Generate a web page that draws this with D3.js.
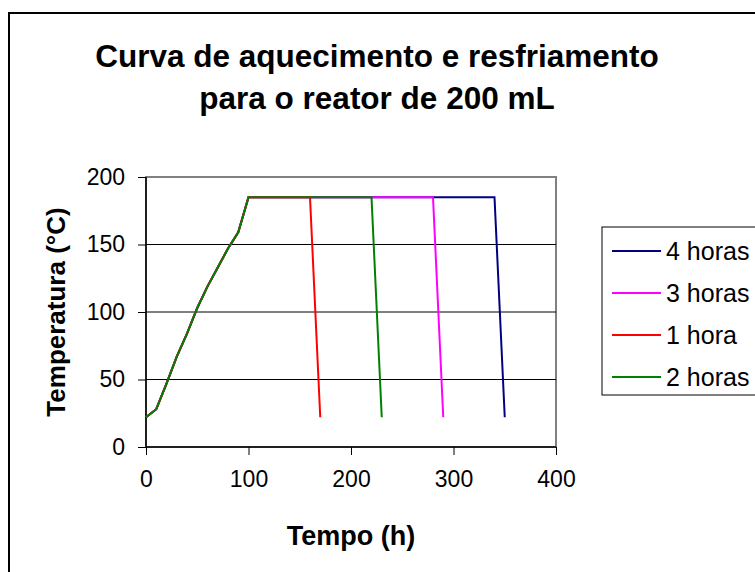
<!DOCTYPE html>
<html lang="pt">
<head>
<meta charset="UTF-8">
<title>Curva de aquecimento e resfriamento</title>
<script src="https://d3js.org/d3.v7.min.js"></script>
<style>
  body { margin: 0; background: #fff; }
  svg text { font-family: Arial, "Liberation Sans", sans-serif; }
</style>
</head>
<body>
<div id="chart"></div>
<script>
// heating part (shared by all series)
var heatTime = [0, 10, 20, 30, 40, 50, 60, 70, 80, 90, 100];
var heatTemp = [22, 28, 47, 67, 84, 103, 119, 133, 147, 159, 185];

// series in legend order (drawn in this order, last on top)
var seriesNames = ["4 horas", "3 horas", "1 hora", "2 horas"];
var seriesColors = ["#000080", "#ff00ff", "#ff0000", "#008000"];
var plateauEnd = [340, 280, 160, 220];
var coolEnd = [350, 290, 170, 230];
var plateauTemp = 185;
var finalTemp = 22;

var xTicks = [0, 100, 200, 300, 400];
var yTicks = [0, 50, 100, 150, 200];

var width = 755, height = 572;
var plot = {left: 146, right: 556, top: 177, bottom: 447};

var svg = d3.select("#chart").append("svg")
    .attr("width", width)
    .attr("height", height);

// outer chart frame
svg.append("rect")
    .attr("x", 9).attr("y", 13)
    .attr("width", 800).attr("height", 600)
    .attr("fill", "white")
    .attr("stroke", "black")
    .attr("stroke-width", 2);

var x = d3.scaleLinear().domain([0, 400]).range([plot.left, plot.right]);
var y = d3.scaleLinear().domain([0, 200]).range([plot.bottom, plot.top]);

// title
var title = svg.append("text")
    .attr("text-anchor", "middle")
    .attr("font-size", "31.5px")
    .attr("font-weight", "bold");
title.append("tspan").attr("x", 377).attr("y", 67).text("Curva de aquecimento e resfriamento");
title.append("tspan").attr("x", 377).attr("y", 109).text("para o reator de 200 mL");

// plot area border (gray)
svg.append("rect")
    .attr("x", plot.left).attr("y", plot.top)
    .attr("width", plot.right - plot.left)
    .attr("height", plot.bottom - plot.top)
    .attr("fill", "none")
    .attr("stroke", "#808080")
    .attr("stroke-width", 2);

// gridlines
svg.append("g")
    .selectAll("line")
    .data(yTicks.filter(function(d){ return d > 0 && d < 200; }))
    .enter().append("line")
    .attr("x1", plot.left).attr("x2", plot.right)
    .attr("y1", function(d){ return y(d); })
    .attr("y2", function(d){ return y(d); })
    .attr("stroke", "black")
    .attr("stroke-width", 1);

// axes
var xAxis = svg.append("g")
    .attr("transform", "translate(0," + plot.bottom + ")")
    .call(d3.axisBottom(x).tickValues(xTicks).tickSize(8).tickPadding(16));
var yAxis = svg.append("g")
    .attr("transform", "translate(" + plot.left + ",0)")
    .call(d3.axisLeft(y).tickValues(yTicks).tickSize(8).tickPadding(13));

[xAxis, yAxis].forEach(function(ax){
    ax.select(".domain").attr("stroke", "black").attr("stroke-width", 1.5);
    ax.selectAll(".tick line").attr("stroke", "black");
    ax.selectAll(".tick text")
        .attr("font-size", "23px")
        .attr("fill", "black")
        .attr("font-family", "Arial, 'Liberation Sans', sans-serif");
});
xAxis.select(".domain").attr("d", "M" + plot.left + ",0H" + plot.right);
yAxis.select(".domain").attr("d", "M0," + plot.top + "V" + plot.bottom);

// axis titles
svg.append("text")
    .attr("x", (plot.left + plot.right) / 2)
    .attr("y", 545)
    .attr("text-anchor", "middle")
    .attr("font-size", "27px")
    .attr("font-weight", "bold")
    .text("Tempo (h)");

svg.append("text")
    .attr("transform", "translate(65," + ((plot.top + plot.bottom) / 2) + ") rotate(-90)")
    .attr("text-anchor", "middle")
    .attr("font-size", "26px")
    .attr("font-weight", "bold")
    .text("Temperatura (°C)");

// series
var line = d3.line()
    .x(function(d){ return x(d[0]); })
    .y(function(d){ return y(d[1]); });

seriesNames.forEach(function(name, i){
    var pts = heatTime.map(function(t, j){ return [t, heatTemp[j]]; });
    pts.push([plateauEnd[i], plateauTemp]);
    pts.push([coolEnd[i], finalTemp]);
    svg.append("path")
        .datum(pts)
        .attr("fill", "none")
        .attr("stroke", seriesColors[i])
        .attr("stroke-width", 2)
        .attr("d", line);
});

// legend
var legend = svg.append("g");
legend.append("rect")
    .attr("x", 602).attr("y", 227)
    .attr("width", 200).attr("height", 168)
    .attr("fill", "white")
    .attr("stroke", "black")
    .attr("stroke-width", 1);

var items = legend.selectAll(".item")
    .data(seriesNames)
    .enter().append("g")
    .attr("transform", function(d, i){ return "translate(0," + (251 + i * 42) + ")"; });
items.append("line")
    .attr("x1", 612).attr("x2", 661)
    .attr("stroke", function(d, i){ return seriesColors[i]; })
    .attr("stroke-width", 2);
items.append("text")
    .attr("x", 666).attr("y", 9)
    .attr("font-size", "25px")
    .text(function(d){ return d; });
</script>
</body>
</html>
